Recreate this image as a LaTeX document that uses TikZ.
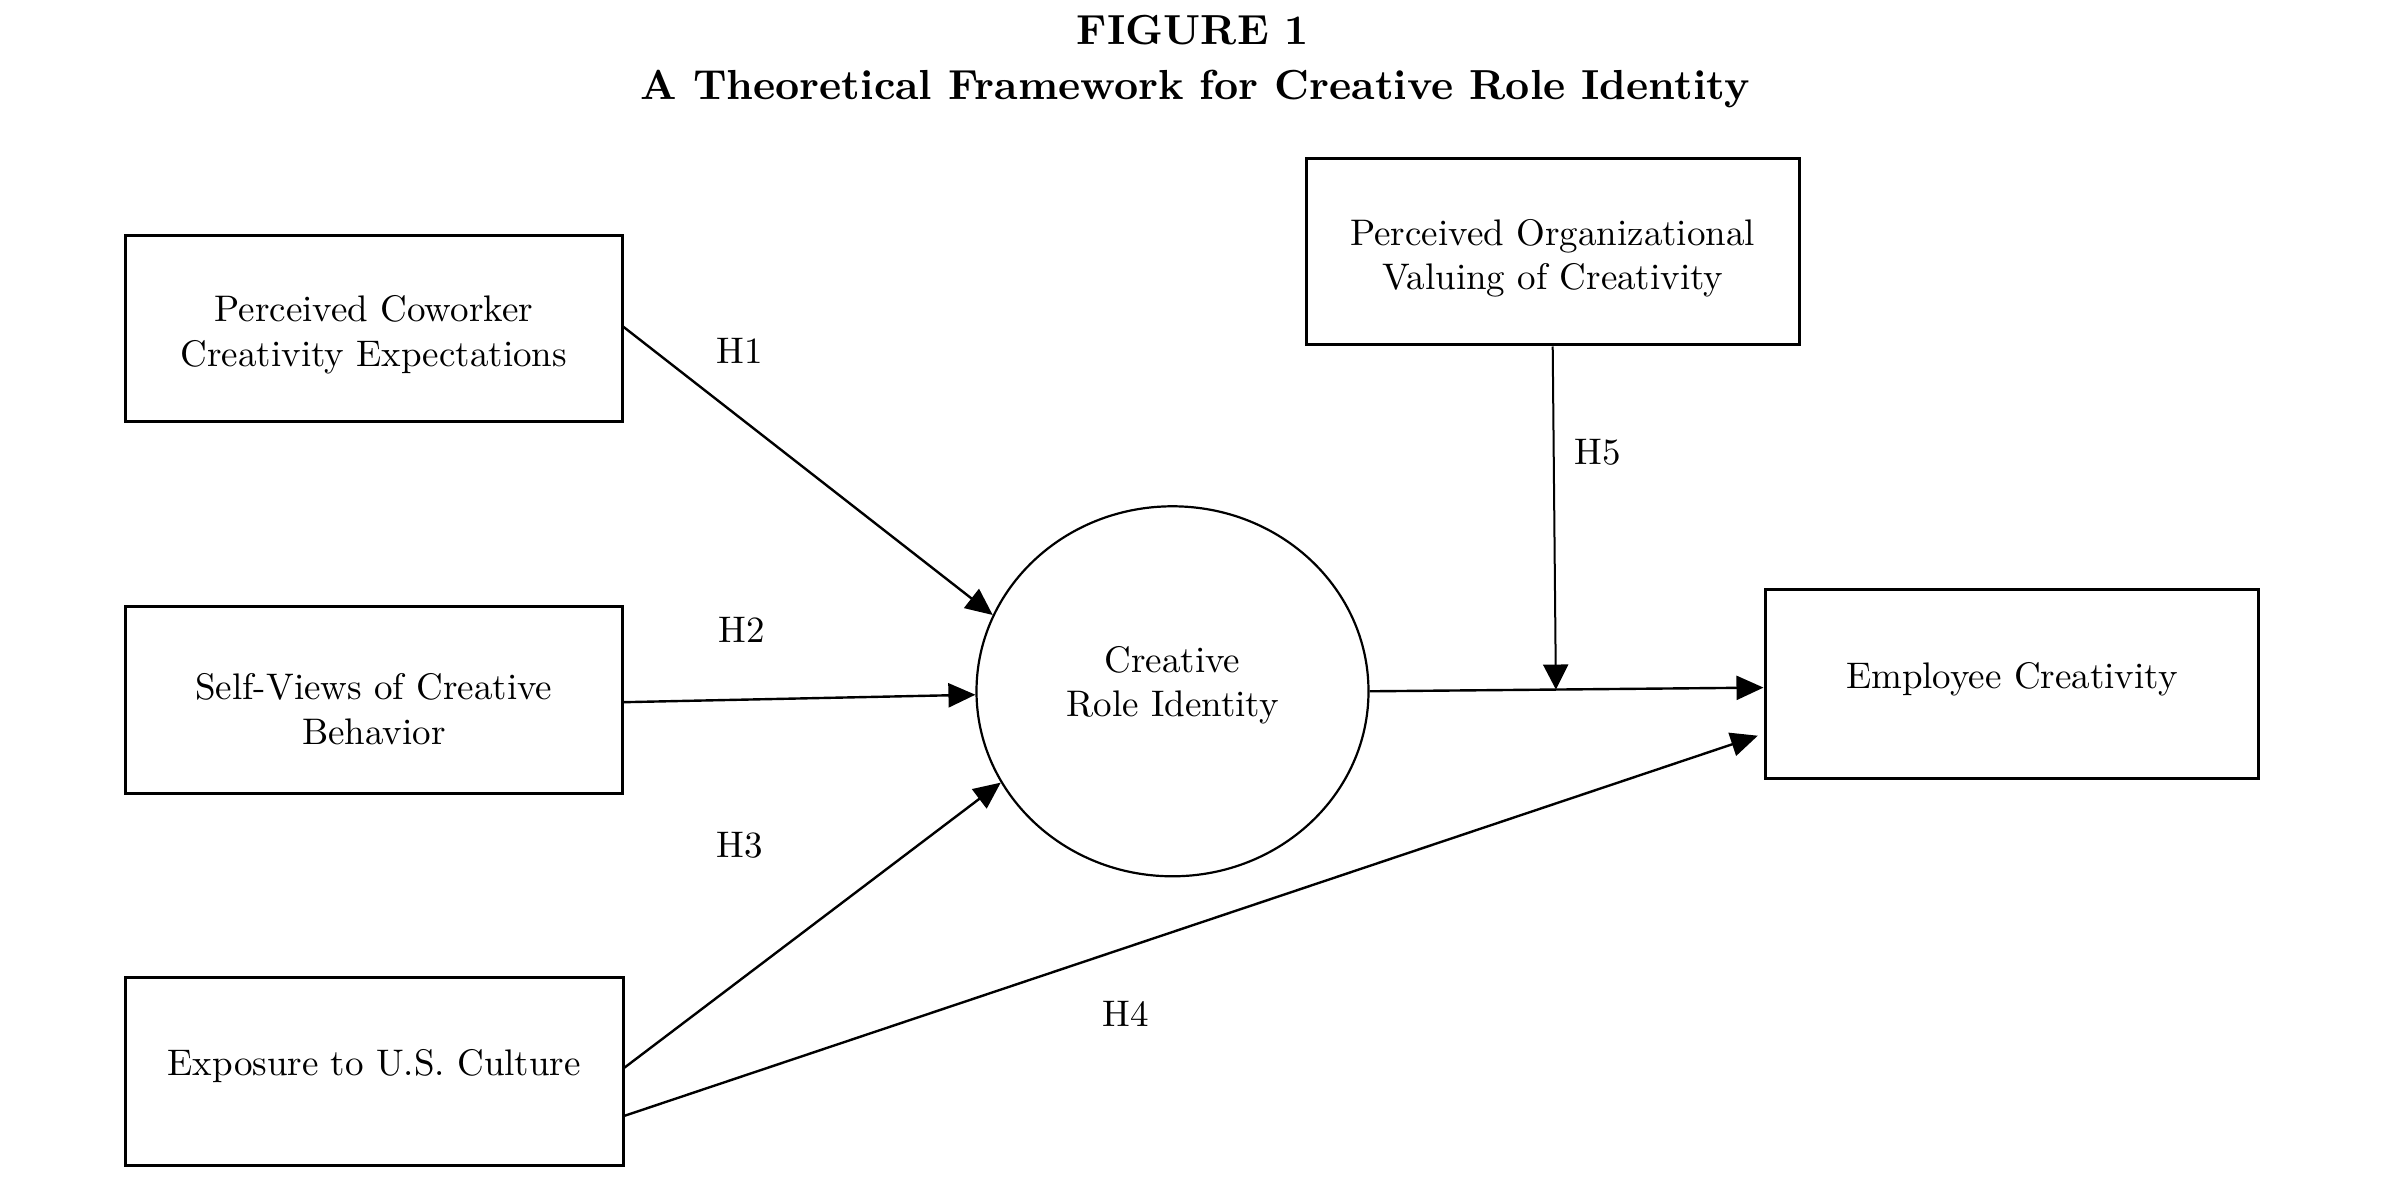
\documentclass[tikz,border=0pt]{standalone}
\usepackage{fontspec}
\setmainfont{lmroman10-regular}[Extension=.otf, BoldFont=lmroman10-bold, ItalicFont=lmroman10-italic]
\usetikzlibrary{arrows.meta,shapes.geometric,calc}
\begin{document}
\begin{tikzpicture}[x=0.5bp,y=-0.5bp,
  txt/.style={font=\fontsize{18.5bp}{22.2bp}\selectfont},
  box/.style={draw, line width=1.5bp, inner sep=0pt},
  boxtext/.style={txt, align=center, inner sep=0pt},
  hyp/.style={txt, anchor=base, inner sep=0pt},
  titlefont/.style={font=\fontsize{21bp}{25bp}\selectfont\bfseries, anchor=base, inner sep=0pt},
  arr/.style={line width=1.2bp, -{Triangle[length=13.5bp,width=12bp]}},
  thinarr/.style={line width=1bp, -{Triangle[length=12.5bp,width=12.5bp]}}]
\fill[white] (0,0) rectangle (2388,1186);
\useasboundingbox (0,0) rectangle (2388,1186);

% title
\node[titlefont] (fig) at (1193,45) {FIGURE 1};
\node[titlefont] (ttl) at (1195,100) {A Theoretical Framework for Creative Role Identity};

% boxes
\node[box, minimum width=248.2bp, minimum height=92.9bp] (cow) at (373.8,328.9) {};
\node[box, minimum width=248.2bp, minimum height=93.2bp] (self) at (373.8,700.2) {};
\node[box, minimum width=248.7bp, minimum height=94bp] (expo) at (374.3,1071) {};
\node[box, minimum width=246.7bp, minimum height=93bp] (org) at (1552.7,252) {};
\node[box, minimum width=246.8bp, minimum height=94.2bp] (emp) at (2011.8,684.2) {};
\node[draw, ellipse, line width=1.1bp, inner sep=0pt,
      minimum width=196bp, minimum height=185bp] (crid) at (1172.5,691.3) {};

% box texts
\node[boxtext] (cowT) at ($(cow.center)+(0,6)$) {Perceived Coworker\\Creativity Expectations};
\node[boxtext] (selfT) at ($(self.center)+(0,9)$) {Self-Views of Creative\\Behavior};
\node[boxtext] (expoT) at ($(expo.center)+(0,-4.5)$) {Exposure to U.S. Culture};
\node[boxtext] (orgT) at ($(org.center)+(0,6)$) {Perceived Organizational\\Valuing of Creativity};
\node[boxtext] (empT) at ($(emp.center)+(0,-4.5)$) {Employee Creativity};
\node[boxtext] (cridT) at ($(crid.center)+(0,-6)$) {Creative\\Role Identity};

% connectors
\draw[arr] ([yshift=1bp]cow.east) -- (crid.157.6);
\draw[arr] ([yshift=-1bp]self.east) -- (crid.181);
\draw[arr] ([yshift=1.7bp]expo.east) -- (crid.208.1);
\draw[arr, shorten >=3bp] ([yshift=-22.4bp]expo.east) -- ([yshift=-24.8bp]emp.west);
\draw[arr] (crid.east) -- ([yshift=-1.7bp]emp.west);
\coordinate (mod) at ($(crid.east)!(org.south)!([yshift=-1.7bp]emp.west)$);
\draw[thinarr] (org.south) -- (mod);

% hypothesis labels
\node[hyp] (h1) at (739.5,364) {H1};
\node[hyp] (h2) at (742,642) {H2};
\node[hyp] (h3) at (739.5,857.7) {H3};
\node[hyp] (h4) at (1126,1026) {H4};
\node[hyp] (h5) at (1598,465) {H5};
\end{tikzpicture}
\end{document}
